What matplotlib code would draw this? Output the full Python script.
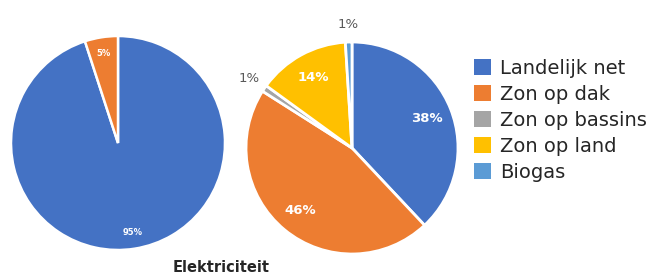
import matplotlib
matplotlib.use('Agg')
import matplotlib.pyplot as plt
from matplotlib.patches import Patch
import numpy as np

categories = ['Landelijk net', 'Zon op dak', 'Zon op bassins', 'Zon op land', 'Biogas']
colors = ['#4472C4', '#ED7D31', '#A5A5A5', '#FFC000', '#5B9BD5']

left_vals = [95, 5]
right_vals = [38, 46, 1, 14, 1]

W, H = 660, 278
fig = plt.figure(figsize=(W / 100, H / 100), dpi=100)


def px_axes(cx, cy, r):
    return fig.add_axes([(cx - r) / W, (H - cy - r) / H, 2 * r / W, 2 * r / H])


# left pie
ax1 = px_axes(118, 143, 107)
wedges, texts, autotexts = ax1.pie(left_vals, colors=colors[:2], startangle=90,
                                   counterclock=False, autopct='%1.0f%%', pctdistance=0.85,
                                   wedgeprops=dict(edgecolor='white', linewidth=1.8),
                                   textprops=dict(color='white', fontsize=6, fontweight='bold'))
ax1.set_xlim(-1, 1)
ax1.set_ylim(-1, 1)

# right pie
ax2 = px_axes(352, 148, 106)
big = lambda p: '%1.0f%%' % p if p >= 5 else ''
wedges, texts, autotexts = ax2.pie(right_vals, colors=colors, startangle=90,
                                   counterclock=False, autopct=big, pctdistance=0.76,
                                   wedgeprops=dict(edgecolor='white', linewidth=2),
                                   textprops=dict(color='white', fontsize=9.5, fontweight='bold'))
for w, v in zip(wedges, right_vals):
    if v < 5:
        a = np.deg2rad((w.theta1 + w.theta2) / 2)
        ax2.text(1.17 * np.cos(a), 1.17 * np.sin(a), '%d%%' % v, ha='center', va='center',
                 fontsize=9.5, color='#595959')
ax2.set_xlim(-1, 1)
ax2.set_ylim(-1, 1)

handles = [Patch(facecolor=c, edgecolor='none') for c in colors]
fig.legend(handles, categories, loc='upper left', bbox_to_anchor=(474 / W, 1 - 59 / H),
           frameon=False, fontsize=14, handlelength=0.88, handleheight=0.88,
           handletextpad=0.46, labelspacing=0.36, borderpad=0, borderaxespad=0,
           labelcolor='#262626')

fig.text(221 / W, 1 - 268 / H, 'Elektriciteit', ha='center', va='center',
         fontsize=10.5, fontweight='bold', color='#262626')

fig.savefig('out.png', dpi=100, facecolor='white')
